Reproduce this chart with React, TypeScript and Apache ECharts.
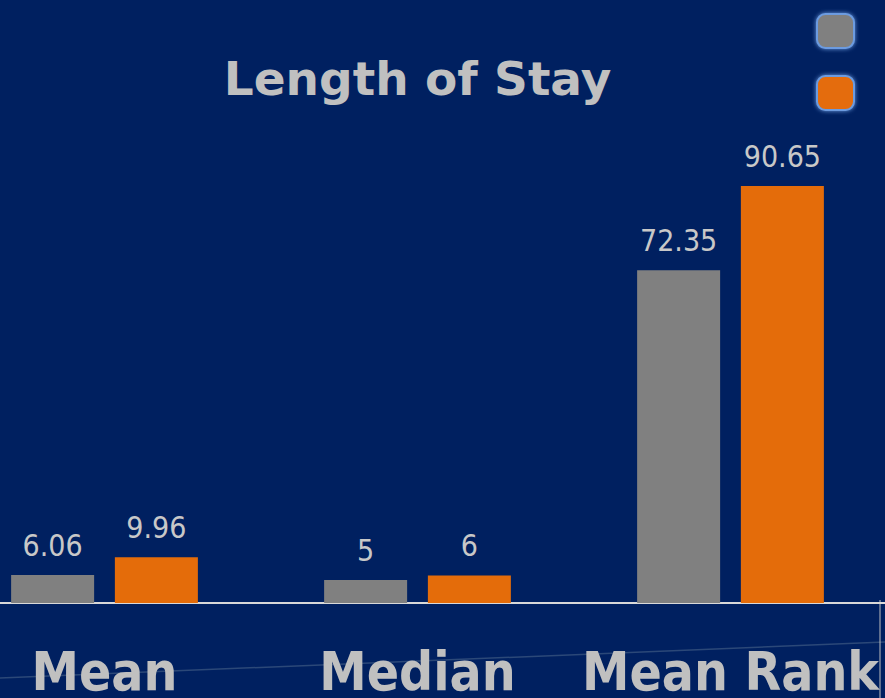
import React, { useEffect, useRef } from "react";
import * as echarts from "echarts";

const categories = ["Mean", "Median", "Mean Rank"];
const seriesNames = ["Group A", "Group B"];
const groupA = [6.06, 5, 72.35];
const groupB = [9.96, 6, 90.65];
const colors = ["#808080", "#E46C0A"];

export default function App() {
  const ref = useRef<HTMLDivElement>(null);
  useEffect(() => {
    if (!ref.current) return;
    const chart = echarts.init(ref.current, undefined, { renderer: "svg" });
    const labelStyle = {
      show: true,
      position: "top",
      distance: 15,
      color: "#C8C8C8",
      fontSize: 30,
      fontFamily: "DejaVu Sans Condensed",
    };
    chart.setOption({
      animation: false,
      backgroundColor: "#002060",
      title: {
        text: "Length of Stay",
        left: "center",
        top: 50,
        textStyle: {
          color: "#C0C0C0",
          fontSize: 47,
          fontWeight: "bold",
          fontFamily: "DejaVu Sans",
        },
      },
      legend: {
        orient: "vertical",
        left: 863,
        top: 8,
        itemWidth: 37,
        itemHeight: 34,
        itemGap: 26,
        icon: "roundRect",
        formatter: () => "",
        selectedMode: false,
        itemStyle: {
          borderColor: "#6C9BE0",
          borderWidth: 2,
          shadowBlur: 4,
          shadowColor: "#6C9BE0",
        },
        data: seriesNames,
      },
      grid: { left: 0, right: 0, top: 143, bottom: 94 },
      xAxis: {
        type: "category",
        data: categories,
        axisLine: { show: true, lineStyle: { color: "#D9D9D9", width: 2 } },
        axisTick: { show: false },
        axisLabel: {
          interval: 0,
          color: "#C0C0C0",
          fontSize: 53,
          fontWeight: "bold",
          fontFamily: "DejaVu Sans Condensed",
          margin: 42,
        },
      },
      yAxis: {
        type: "value",
        min: 0,
        max: 100,
        show: false,
        splitLine: { show: false },
      },
      graphic: [
        {
          type: "line",
          z: -1,
          shape: { x1: 52, y1: 678, x2: 939, y2: 642 },
          style: { stroke: "#2B4878", lineWidth: 1.5 },
        },
        {
          type: "line",
          shape: { x1: 932, y1: 600, x2: 932, y2: 698 },
          style: { stroke: "#BFBFBF", lineWidth: 1 },
        },
      ],
      series: [
        {
          name: seriesNames[0],
          type: "bar",
          data: groupA,
          barWidth: 83,
          barGap: "25%",
          itemStyle: { color: colors[0] },
          label: labelStyle,
        },
        {
          name: seriesNames[1],
          type: "bar",
          data: groupB,
          barWidth: 83,
          barGap: "25%",
          itemStyle: { color: colors[1] },
          label: labelStyle,
        },
      ],
    });
    return () => chart.dispose();
  }, []);
  return (
    <div
      style={{
        position: "fixed",
        left: 0,
        top: 0,
        width: 885,
        height: 698,
        overflow: "hidden",
        background: "#002060",
      }}
    >
      <div
        ref={ref}
        style={{ position: "absolute", left: -52, top: 0, width: 939, height: 698 }}
      />
    </div>
  );
}
